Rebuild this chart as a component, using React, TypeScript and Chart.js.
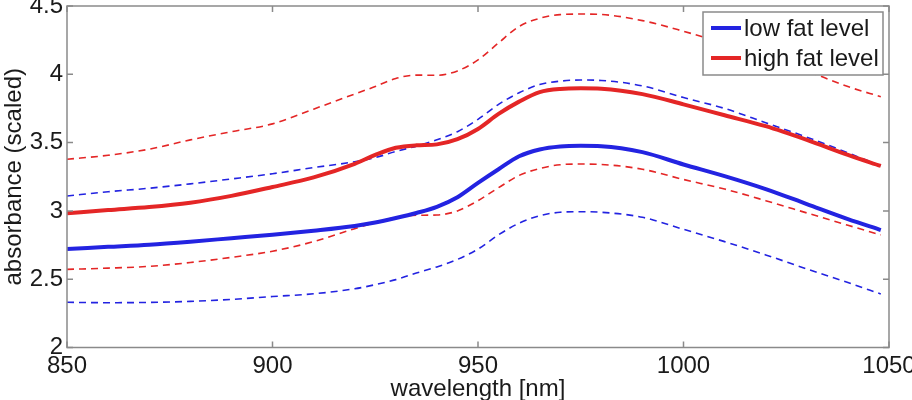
import React, { useEffect, useRef } from "react";
import { Chart, registerables } from "chart.js";
Chart.register(...registerables);

const wavelengths = [850, 860, 870, 880, 890, 900, 910, 920, 925, 930, 935, 940, 945, 950, 955, 960, 965, 970, 975, 980, 990, 1000, 1010, 1020, 1030, 1040, 1048];
const lowMean = [2.721, 2.737, 2.753, 2.775, 2.8, 2.825, 2.855, 2.89, 2.915, 2.948, 2.985, 3.03, 3.1, 3.205, 3.305, 3.4, 3.45, 3.472, 3.477, 3.474, 3.43, 3.34, 3.255, 3.16, 3.05, 2.94, 2.86];
const lowUpper = [3.109, 3.14, 3.166, 3.198, 3.234, 3.272, 3.317, 3.36, 3.39, 3.435, 3.474, 3.52, 3.58, 3.67, 3.78, 3.865, 3.925, 3.95, 3.958, 3.955, 3.915, 3.83, 3.75, 3.645, 3.54, 3.425, 3.329];
const lowLower = [2.331, 2.328, 2.33, 2.338, 2.352, 2.373, 2.393, 2.43, 2.46, 2.497, 2.545, 2.59, 2.645, 2.72, 2.825, 2.91, 2.965, 2.99, 2.994, 2.99, 2.953, 2.865, 2.775, 2.678, 2.575, 2.475, 2.392];
const highMean = [2.982, 3.006, 3.028, 3.06, 3.11, 3.175, 3.245, 3.345, 3.41, 3.462, 3.48, 3.487, 3.525, 3.6, 3.71, 3.8, 3.87, 3.893, 3.897, 3.894, 3.855, 3.78, 3.7, 3.62, 3.52, 3.41, 3.329];
const highUpper = [3.378, 3.407, 3.452, 3.52, 3.58, 3.637, 3.745, 3.856, 3.91, 3.97, 3.994, 3.993, 4.025, 4.105, 4.23, 4.35, 4.41, 4.437, 4.441, 4.438, 4.393, 4.315, 4.225, 4.13, 4.025, 3.91, 3.836];
const highLower = [2.572, 2.581, 2.594, 2.622, 2.66, 2.705, 2.775, 2.87, 2.915, 2.952, 2.968, 2.97, 3.0, 3.075, 3.17, 3.26, 3.31, 3.338, 3.343, 3.34, 3.305, 3.23, 3.16, 3.075, 2.985, 2.895, 2.824];
const xTicks = [850, 900, 950, 1000, 1050];
const yTicks = [2, 2.5, 3, 3.5, 4, 4.5];
const legendLabels = ["low fat level", "high fat level"];
const xTitle = "wavelength [nm]";
const yTitle = "absorbance (scaled)";

const BLUE = "rgb(35,35,225)";
const RED = "rgb(228,38,38)";
const FONT = "'Liberation Sans', Arial, sans-serif";
const AXIS = "#8a8a8a";
const TEXT = "#1a1a1a";

const pts = (vals: number[]) => wavelengths.map((x, i) => ({ x, y: vals[i] }));

const framePlugin = {
  id: "frame",
  afterDatasetsDraw(chart: any) {
    const { ctx, chartArea: a, scales } = chart;
    const xs = scales.x;
    const ys = scales.y;
    ctx.save();
    ctx.strokeStyle = AXIS;
    ctx.lineWidth = 1.5;
    ctx.strokeRect(a.left, a.top, a.right - a.left, a.bottom - a.top);
    const tl = 6;
    ctx.beginPath();
    xTicks.forEach((v) => {
      const px = xs.getPixelForValue(v);
      ctx.moveTo(px, a.bottom);
      ctx.lineTo(px, a.bottom - tl);
      ctx.moveTo(px, a.top);
      ctx.lineTo(px, a.top + tl);
    });
    yTicks.forEach((v) => {
      const py = ys.getPixelForValue(v);
      ctx.moveTo(a.left, py);
      ctx.lineTo(a.left + tl, py);
      ctx.moveTo(a.right, py);
      ctx.lineTo(a.right - tl, py);
    });
    ctx.stroke();

    // legend box (top-right inside the axes)
    const boxW = 180;
    const boxH = 63;
    const bx = a.right - 6 - boxW;
    const by = a.top + 6;
    ctx.fillStyle = "#ffffff";
    ctx.fillRect(bx, by, boxW, boxH);
    ctx.strokeStyle = AXIS;
    ctx.lineWidth = 1.5;
    ctx.strokeRect(bx, by, boxW, boxH);
    const ds = chart.data.datasets;
    legendLabels.forEach((lab, i) => {
      const d = ds.find((q: any) => q.label === lab);
      const cy = by + 16 + i * 30;
      ctx.strokeStyle = d.borderColor;
      ctx.lineWidth = 4;
      ctx.beginPath();
      ctx.moveTo(bx + 8, cy);
      ctx.lineTo(bx + 38, cy);
      ctx.stroke();
      ctx.fillStyle = TEXT;
      ctx.font = `24px ${FONT}`;
      ctx.textAlign = "left";
      ctx.textBaseline = "middle";
      ctx.fillText(lab, bx + 41, cy + 1);
    });
    ctx.restore();
  },
};

export default function App() {
  const ref = useRef<HTMLCanvasElement | null>(null);
  useEffect(() => {
    if (!ref.current) return;
    const dashed = (label: string, color: string, vals: number[], order: number) => ({
      label,
      data: pts(vals),
      borderColor: color,
      backgroundColor: color,
      borderWidth: 1.6,
      borderDash: [7, 5],
      pointRadius: 0,
      cubicInterpolationMode: "monotone" as const,
      order,
    });
    const chart = new Chart(ref.current, {
      type: "line",
      data: {
        datasets: [
          { label: legendLabels[1], data: pts(highMean), borderColor: RED, backgroundColor: RED, borderWidth: 4, pointRadius: 0, cubicInterpolationMode: "monotone", order: 0 },
          { label: legendLabels[0], data: pts(lowMean), borderColor: BLUE, backgroundColor: BLUE, borderWidth: 4, pointRadius: 0, cubicInterpolationMode: "monotone", order: 1 },
          dashed("low upper", BLUE, lowUpper, 2),
          dashed("low lower", BLUE, lowLower, 3),
          dashed("high upper", RED, highUpper, 4),
          dashed("high lower", RED, highLower, 5),
        ],
      },
      options: {
        responsive: false,
        animation: false,
        devicePixelRatio: 1,
        layout: { padding: { top: 6, right: 23, left: 0, bottom: 0 } },
        plugins: { legend: { display: false }, tooltip: { enabled: false } },
        scales: {
          x: {
            type: "linear",
            min: 850,
            max: 1050,
            afterBuildTicks: (s: any) => { s.ticks = xTicks.map((v) => ({ value: v })); },
            afterFit: (s: any) => { s.height = 52.5; s.paddingLeft = 0; s.paddingRight = 0; },
            grid: { display: false, drawTicks: false },
            border: { display: false },
            ticks: { padding: 4, color: TEXT, font: { size: 24, family: FONT }, maxRotation: 0, autoSkip: false, callback: (v: any) => String(v) },
            title: { display: true, text: xTitle, color: TEXT, font: { size: 24, family: FONT, lineHeight: 0.9 }, padding: 0 },
          },
          y: {
            type: "linear",
            min: 2,
            max: 4.5,
            afterBuildTicks: (s: any) => { s.ticks = yTicks.map((v) => ({ value: v })); },
            afterFit: (s: any) => { s.width = 67; s.paddingTop = 0; s.paddingBottom = 0; },
            grid: { display: false, drawTicks: false },
            border: { display: false },
            ticks: { padding: 4, color: TEXT, font: { size: 24, family: FONT }, autoSkip: false, callback: (v: any) => String(v) },
            title: { display: true, text: yTitle, color: TEXT, font: { size: 24, family: FONT }, padding: 0 },
          },
        },
      },
      plugins: [framePlugin],
    } as any);
    return () => chart.destroy();
  }, []);
  return (
    <div style={{ position: "fixed", left: 0, top: 0, width: 912, height: 400, background: "#fff" }}>
      <canvas ref={ref} width={912} height={400} style={{ display: "block", width: 912, height: 400 }} />
    </div>
  );
}
